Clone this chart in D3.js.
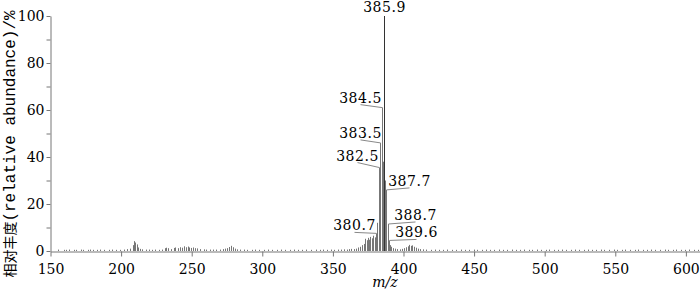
<!DOCTYPE html>
<html>
<head>
<meta charset="utf-8">
<script src="https://cdn.jsdelivr.net/npm/d3@7"></script>
<style>
  body { margin: 0; background: #fff; }
  svg { display: block; }
</style>
</head>
<body>
<svg id="chart" width="700" height="290"></svg>
<script>
// m/z values and relative abundance (%)
let mzVals = [
  155.2,159.5,161.3,163.1,166.8,168.2,171.4,173.0,176.7,178.1,180.3,182.9,185.4,188.0,191.2,193.7,196.5,199.1,
  201.8,204.2,206.5,208.3,209.2,210.1,211.0,212.2,213.4,215.0,217.3,219.6,221.8,224.0,226.5,228.7,
  230.9,232.1,233.4,235.5,237.2,238.4,240.1,241.9,243.2,244.5,245.8,247.1,248.3,249.6,251.0,252.4,254.0,
  256.2,258.5,260.3,262.7,265.1,267.4,269.9,272.0,273.5,275.0,276.6,277.8,279.0,280.4,282.3,284.1,
  287.0,289.4,292.8,295.1,298.0,301.4,303.9,307.2,310.6,313.3,316.0,319.5,322.7,325.4,328.0,331.2,
  334.5,337.7,340.6,343.1,346.0,348.4,350.9,353.3,355.6,357.8,359.9,361.5,363.0,364.6,366.2,368.0,
  369.4,370.8,371.9,373.0,373.9,374.8,375.7,376.6,377.6,378.7,379.6,380.7,381.5,382.5,383.5,384.5,
  385.2,385.9,386.8,387.7,388.7,389.6,390.6,391.5,392.6,393.8,395.5,397.4,399.0,400.6,401.8,403.0,
  404.1,405.2,406.3,407.4,408.6,410.0,411.8,413.5,416.0,419.2,422.5,425.1,428.3,431.0,434.6,437.2,
  440.5,443.8,446.4,449.9,452.3,455.7,458.1,461.6,464.2,467.5,470.8,473.3,476.9,479.4,482.7,485.2,
  488.6,491.3,494.8,497.5,500.9,503.4,506.7,509.1,512.6,515.3,518.8,521.2,524.5,527.9,530.4,533.7,
  536.2,539.6,542.1,545.5,548.8,551.3,554.6,557.2,560.5,563.9,566.4,569.8,572.3,575.6,578.1,581.5,
  584.9,587.4,590.7,593.2,596.6,599.1,602.5,605.8,608.3
];
let intensity = [
  0.6,0.5,0.5,0.6,0.5,0.5,0.6,0.5,0.5,0.6,0.5,0.5,0.6,0.5,0.5,0.6,0.5,0.5,
  0.6,0.8,1.0,2.5,4.2,3.6,2.8,1.5,0.9,0.7,0.6,0.6,0.5,0.6,0.5,0.6,
  1.2,1.4,1.2,0.8,1.3,1.5,1.2,1.6,1.4,2.0,1.6,1.9,1.5,1.3,1.5,1.2,1.1,
  0.8,0.7,0.6,0.6,0.6,0.6,0.6,0.8,1.0,1.2,1.7,2.2,1.6,1.0,0.7,0.6,
  0.6,0.5,0.5,0.6,0.5,0.5,0.6,0.5,0.5,0.6,0.5,0.5,0.6,0.5,0.5,0.6,
  0.5,0.6,0.5,0.6,0.5,0.6,0.5,0.6,0.6,0.7,0.6,0.8,0.9,0.8,1.0,1.5,
  1.8,2.5,3.0,5.2,4.6,5.6,4.8,6.0,5.4,6.5,5.8,7.5,12.0,35.5,46.0,61.0,
  38.0,100,30.0,26.0,11.5,4.5,2.5,1.8,1.2,1.0,0.8,0.7,0.9,1.2,1.6,2.0,
  2.6,2.2,2.4,1.8,1.4,1.0,0.8,0.7,0.6,0.5,0.6,0.5,0.5,0.6,0.5,0.5,
  0.6,0.5,0.5,0.6,0.5,0.5,0.6,0.5,0.5,0.6,0.5,0.5,0.6,0.5,0.5,0.6,
  0.5,0.5,0.6,0.5,0.5,0.6,0.5,0.5,0.6,0.5,0.5,0.6,0.5,0.5,0.6,0.5,
  0.5,0.6,0.5,0.5,0.6,0.5,0.5,0.6,0.5,0.5,0.6,0.5,0.5,0.6,0.5,0.5,
  0.6,0.5,0.5,0.6,0.5,0.5,0.6,0.5,0.5
];

// labelled peaks
let peakMz = [385.9, 384.5, 383.5, 382.5, 387.7, 388.7, 389.6, 380.7];
let peakText = ['385.9','384.5','383.5','382.5','387.7','388.7','389.6','380.7'];

let xTicks = [150,200,250,300,350,400,450,500,550,600];
let yTicks = [0,20,40,60,80,100];
let yMinor = [10,30,50,70,90];

let svg = d3.select('#chart');
let margin = {left: 50.5, top: 16, bottom: 251};

let xScale = d3.scaleLinear().domain([150, 610]).range([margin.left, 700]);
let yScale = d3.scaleLinear().domain([0, 100]).range([margin.bottom, margin.top]);

let data = mzVals.map(function(m, i) { return {mz: m, val: intensity[i]}; });

// sticks
svg.append('g').selectAll('line')
  .data(data)
  .enter().append('line')
  .attr('x1', d => Math.round(xScale(d.mz)) + 0.5)
  .attr('x2', d => Math.round(xScale(d.mz)) + 0.5)
  .attr('y1', yScale(0))
  .attr('y2', d => yScale(d.val))
  .attr('stroke', d => d.val > 90 ? '#333' : '#777')
  .attr('stroke-width', 1);

// axes
let serif = '"DejaVu Serif", serif';
let xAxis = d3.axisBottom(xScale).tickValues(xTicks).tickSize(5).tickSizeOuter(0);
let gx = svg.append('g').attr('transform', 'translate(0,' + (margin.bottom + 0.5) + ')').call(xAxis);
gx.select('.domain').attr('stroke', '#777');
gx.selectAll('.tick line').attr('stroke', '#777');
gx.selectAll('.tick text').attr('font-family', serif).attr('font-size', 14).attr('fill', '#000').attr('dy', '1.05em');

let yAxis = d3.axisLeft(yScale).tickValues(yTicks).tickSize(4).tickSizeOuter(0);
let gy = svg.append('g').attr('transform', 'translate(' + margin.left + ',0)').call(yAxis);
gy.select('.domain').attr('stroke', '#777');
gy.selectAll('.tick line').attr('stroke', '#777');
gy.selectAll('.tick text').attr('font-family', serif).attr('font-size', 14).attr('fill', '#000').attr('x', -6);

svg.append('g').attr('transform', 'translate(' + margin.left + ',0)')
  .call(d3.axisLeft(yScale).tickValues(yMinor).tickSize(4).tickFormat(''))
  .call(g => g.select('.domain').remove())
  .selectAll('.tick line').attr('stroke', '#777');

// peak labels with leader lines (offsets are layout only)
let labelPos = {
  '385.9': {dx: 0, dy: -4, top: true},
  '384.5': {dx: -22, dy: -5},
  '383.5': {dx: -20, dy: -5},
  '382.5': {dx: -22, dy: -7},
  '387.7': {dx: 23, dy: -4},
  '388.7': {dx: 27, dy: -4},
  '389.6': {dx: 27, dy: -3},
  '380.7': {dx: -22, dy: -3}
};

peakMz.forEach(function(m, i) {
  let d = data.find(p => p.mz === m);
  let px = Math.round(xScale(m)) + 0.5;
  let py = yScale(d.val);
  let pos = labelPos[peakText[i]];
  let tx = px + pos.dx;
  let ty = py + pos.dy;
  if (!pos.top) {
    svg.append('line')
      .attr('x1', tx).attr('y1', ty + 2)
      .attr('x2', px).attr('y2', py)
      .attr('stroke', '#888').attr('stroke-width', 1);
  }
  svg.append('text')
    .attr('x', tx).attr('y', ty)
    .attr('text-anchor', 'middle')
    .attr('font-family', serif).attr('font-size', 14)
    .attr('letter-spacing', 0.5)
    .text(peakText[i]);
});

// axis titles
svg.append('text')
  .attr('x', 385).attr('y', 287)
  .attr('text-anchor', 'middle')
  .attr('font-family', serif).attr('font-size', 14).attr('font-style', 'italic')
  .text('m/z');

let yt = svg.append('text')
  .attr('transform', 'translate(15,144) rotate(-90)')
  .attr('text-anchor', 'middle');
yt.append('tspan').attr('font-family', '"Noto Sans CJK SC", sans-serif').attr('font-size', 14).text('相对丰度');
yt.append('tspan').attr('font-family', '"Liberation Mono", monospace').attr('font-size', 16).text('(relative abundance)/%');
</script>
</body>
</html>
